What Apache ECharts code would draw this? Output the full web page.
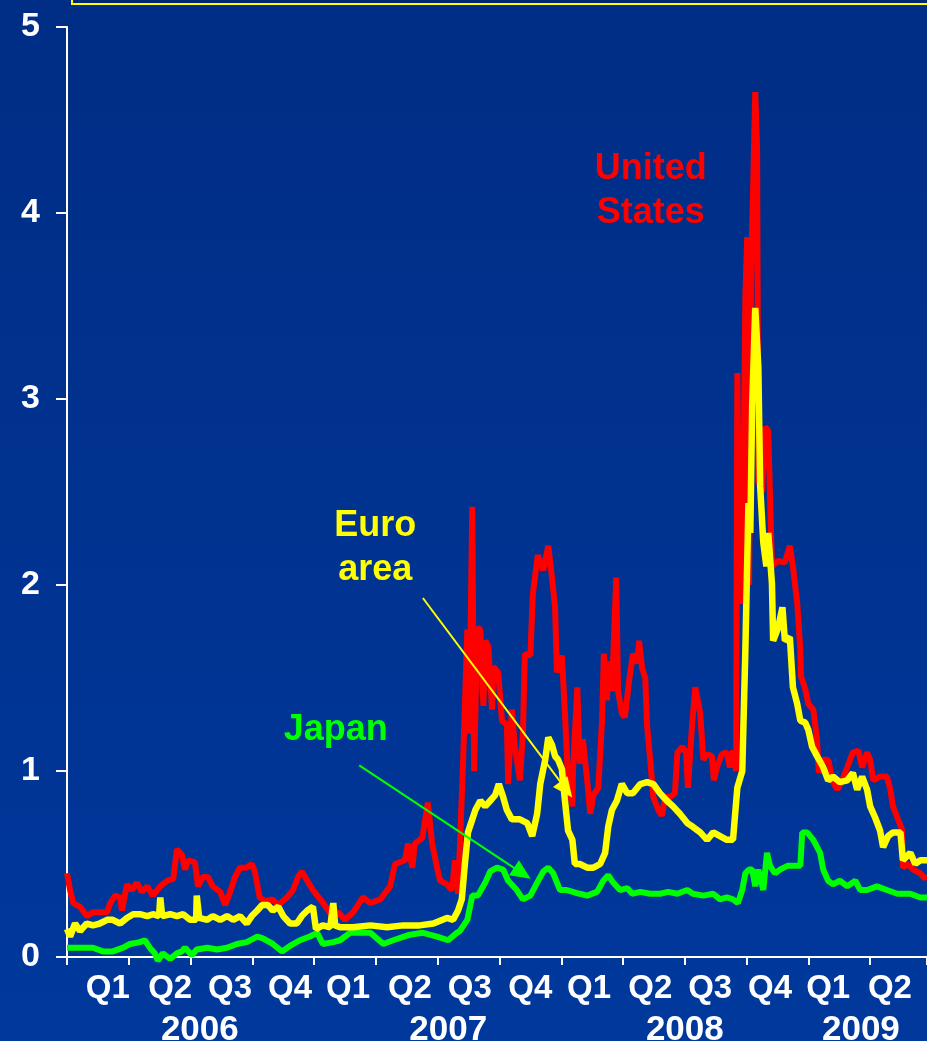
<!DOCTYPE html>
<html>
<head>
<meta charset="utf-8">
<script src="https://cdn.jsdelivr.net/npm/echarts@6/dist/echarts.min.js"></script>
<style>
  html, body { margin: 0; padding: 0; background: #00339a; }
  #chart { width: 927px; height: 1041px; }
</style>
</head>
<body>
<div id="chart"></div>
<script>
// Time runs in quarters from the start of 2006 (0 = 1 Jan 2006, 1 = 1 Apr 2006, ...).
const quarterLabels = ['Q1', 'Q2', 'Q3', 'Q4', 'Q1', 'Q2', 'Q3', 'Q4', 'Q1', 'Q2', 'Q3', 'Q4', 'Q1', 'Q2'];
const quarterLabelAt = [0.66, 1.67, 2.64, 3.61, 4.55, 5.55, 6.52, 7.50, 8.45, 9.44, 10.41, 11.38, 12.32, 13.32];
const yearLabels = ['2006', '2007', '2008', '2009'];
const yearLabelAt = [2.15, 6.17, 10.0, 12.85];
const xEnd = 13.92;

// United States spread, percentage points
const usData = [
  [0.00, 0.45], [0.05, 0.36], [0.10, 0.29], [0.21, 0.27], [0.32, 0.22], [0.42, 0.24], [0.53, 0.24],
  [0.65, 0.24], [0.70, 0.29], [0.78, 0.33], [0.86, 0.32], [0.89, 0.25], [0.97, 0.39], [1.05, 0.36],
  [1.13, 0.40], [1.21, 0.35], [1.30, 0.38], [1.39, 0.33], [1.51, 0.38], [1.62, 0.41], [1.72, 0.42],
  [1.78, 0.58], [1.86, 0.55], [1.91, 0.47], [1.96, 0.52], [2.07, 0.51], [2.12, 0.38], [2.20, 0.43],
  [2.28, 0.43], [2.36, 0.38], [2.48, 0.35], [2.56, 0.28], [2.64, 0.35], [2.72, 0.43], [2.80, 0.48],
  [2.91, 0.48], [2.99, 0.50], [3.04, 0.46], [3.12, 0.32], [3.21, 0.30], [3.32, 0.31], [3.42, 0.28],
  [3.56, 0.32], [3.66, 0.36], [3.74, 0.43], [3.80, 0.46], [3.89, 0.41], [3.98, 0.36], [4.10, 0.31],
  [4.21, 0.26], [4.29, 0.22], [4.39, 0.24], [4.50, 0.20], [4.63, 0.24], [4.79, 0.32], [4.91, 0.29],
  [5.07, 0.31], [5.23, 0.38], [5.31, 0.50], [5.47, 0.52], [5.52, 0.61], [5.59, 0.48], [5.63, 0.61],
  [5.75, 0.64], [5.80, 0.74], [5.84, 0.83], [5.91, 0.61], [5.99, 0.48], [6.04, 0.41], [6.15, 0.39],
  [6.23, 0.36], [6.28, 0.52], [6.33, 0.34], [6.41, 1.04], [6.48, 1.76], [6.51, 1.20], [6.56, 2.42],
  [6.59, 1.00], [6.64, 1.77], [6.69, 1.76], [6.74, 1.35], [6.77, 1.70], [6.82, 1.67], [6.88, 1.33],
  [6.90, 1.56], [6.98, 1.53], [7.04, 1.27], [7.12, 1.25], [7.14, 0.93], [7.20, 1.33], [7.25, 1.13],
  [7.33, 0.95], [7.38, 1.20], [7.41, 1.63], [7.50, 1.62], [7.54, 1.95], [7.62, 2.16], [7.71, 2.08],
  [7.79, 2.21], [7.85, 2.04], [7.90, 1.88], [7.93, 1.53], [8.01, 1.62], [8.06, 1.31], [8.11, 0.95],
  [8.18, 0.81], [8.19, 1.00], [8.26, 1.45], [8.30, 1.04], [8.35, 1.17], [8.42, 0.95], [8.47, 0.77],
  [8.52, 0.87], [8.60, 0.91], [8.66, 1.27], [8.69, 1.63], [8.74, 1.38], [8.76, 1.59], [8.82, 1.43],
  [8.89, 2.04], [8.92, 1.43], [8.98, 1.31], [9.03, 1.29], [9.10, 1.49], [9.16, 1.63], [9.23, 1.58],
  [9.26, 1.70], [9.31, 1.55], [9.36, 1.50], [9.39, 1.24], [9.44, 1.06], [9.49, 0.86], [9.57, 0.79],
  [9.63, 0.76], [9.68, 0.86], [9.76, 0.86], [9.84, 0.88], [9.88, 1.10], [9.96, 1.13], [10.02, 1.10],
  [10.05, 0.91], [10.12, 1.26], [10.17, 1.45], [10.25, 1.31], [10.30, 1.06], [10.36, 1.09], [10.44, 1.08],
  [10.47, 0.95], [10.52, 1.02], [10.60, 1.09], [10.68, 1.10], [10.73, 1.02], [10.78, 1.11], [10.83, 1.00],
  [10.85, 3.14], [10.89, 1.90], [10.93, 1.95], [10.98, 3.55], [11.01, 3.87], [11.04, 2.00], [11.07, 3.60],
  [11.14, 4.65], [11.17, 4.35], [11.19, 2.56], [11.25, 2.50], [11.30, 2.85], [11.35, 2.83], [11.41, 2.10],
  [11.51, 2.13], [11.62, 2.12], [11.70, 2.21], [11.75, 2.10], [11.82, 1.90], [11.87, 1.65], [11.88, 1.51],
  [11.95, 1.44], [12.00, 1.36], [12.08, 1.33], [12.14, 1.17], [12.17, 0.99], [12.24, 1.06], [12.32, 1.06],
  [12.40, 0.94], [12.47, 0.90], [12.56, 0.96], [12.63, 1.02], [12.72, 1.10], [12.81, 1.11], [12.87, 1.02],
  [12.95, 1.10], [13.00, 1.06], [13.05, 0.95], [13.16, 0.97], [13.27, 0.97], [13.32, 0.91], [13.37, 0.81],
  [13.44, 0.75], [13.52, 0.68], [13.53, 0.48], [13.61, 0.50], [13.70, 0.47], [13.81, 0.45], [13.89, 0.42],
  [13.92, 0.44]
];

// Euro area spread, percentage points
const euroData = [
  [0.00, 0.15], [0.05, 0.11], [0.13, 0.18], [0.21, 0.14], [0.32, 0.18], [0.42, 0.17], [0.53, 0.18],
  [0.65, 0.20], [0.74, 0.20], [0.86, 0.18], [0.97, 0.21], [1.07, 0.23], [1.18, 0.23], [1.30, 0.22],
  [1.39, 0.23], [1.49, 0.22], [1.51, 0.32], [1.54, 0.22], [1.67, 0.23], [1.78, 0.22], [1.88, 0.23],
  [1.99, 0.20], [2.09, 0.20], [2.10, 0.33], [2.14, 0.21], [2.27, 0.20], [2.36, 0.22], [2.48, 0.20],
  [2.59, 0.22], [2.69, 0.20], [2.80, 0.22], [2.91, 0.18], [2.99, 0.22], [3.08, 0.25], [3.16, 0.28],
  [3.25, 0.28], [3.33, 0.25], [3.42, 0.27], [3.50, 0.22], [3.61, 0.18], [3.72, 0.18], [3.80, 0.22],
  [3.89, 0.25], [3.98, 0.27], [4.03, 0.15], [4.14, 0.17], [4.26, 0.16], [4.29, 0.16], [4.31, 0.29],
  [4.34, 0.17], [4.42, 0.16], [4.63, 0.16], [4.91, 0.17], [5.18, 0.16], [5.44, 0.17], [5.71, 0.17],
  [5.93, 0.18], [6.15, 0.21], [6.25, 0.20], [6.33, 0.25], [6.39, 0.31], [6.44, 0.50], [6.49, 0.67],
  [6.56, 0.74], [6.61, 0.79], [6.69, 0.84], [6.77, 0.81], [6.85, 0.84], [6.93, 0.87], [6.99, 0.93],
  [7.06, 0.86], [7.12, 0.79], [7.20, 0.74], [7.33, 0.74], [7.45, 0.72], [7.53, 0.65], [7.61, 0.77],
  [7.66, 0.93], [7.74, 1.06], [7.79, 1.18], [7.85, 1.14], [7.90, 1.08], [7.95, 1.06], [8.01, 1.01],
  [8.06, 0.84], [8.11, 0.68], [8.18, 0.63], [8.22, 0.50], [8.30, 0.50], [8.42, 0.48], [8.52, 0.48],
  [8.63, 0.50], [8.71, 0.56], [8.76, 0.70], [8.82, 0.79], [8.90, 0.84], [8.98, 0.93], [9.07, 0.88],
  [9.16, 0.88], [9.28, 0.93], [9.39, 0.94], [9.49, 0.93], [9.60, 0.88], [9.71, 0.84], [9.81, 0.81],
  [9.92, 0.77], [10.04, 0.72], [10.13, 0.70], [10.25, 0.67], [10.36, 0.63], [10.46, 0.67], [10.57, 0.65],
  [10.68, 0.63], [10.78, 0.63], [10.85, 0.91], [10.93, 1.00], [10.98, 1.65], [11.03, 2.44], [11.06, 2.28],
  [11.09, 2.96], [11.14, 3.49], [11.19, 3.17], [11.22, 2.53], [11.27, 2.23], [11.32, 2.10], [11.35, 2.28],
  [11.41, 2.01], [11.43, 1.70], [11.51, 1.77], [11.58, 1.88], [11.62, 1.70], [11.70, 1.72], [11.75, 1.45],
  [11.82, 1.36], [11.87, 1.27], [11.95, 1.26], [12.00, 1.22], [12.06, 1.13], [12.14, 1.08], [12.24, 1.02],
  [12.32, 0.95], [12.40, 0.97], [12.51, 0.94], [12.63, 0.95], [12.72, 0.99], [12.79, 0.90], [12.87, 0.97],
  [12.95, 0.90], [13.00, 0.81], [13.08, 0.75], [13.16, 0.68], [13.21, 0.59], [13.29, 0.65], [13.37, 0.67],
  [13.49, 0.67], [13.53, 0.52], [13.65, 0.56], [13.73, 0.50], [13.81, 0.52], [13.92, 0.52]
];

// Japan spread, percentage points
const japanData = [
  [0.00, 0.05], [0.42, 0.05], [0.58, 0.03], [0.74, 0.03], [0.91, 0.05], [1.02, 0.07], [1.18, 0.08],
  [1.26, 0.09], [1.34, 0.05], [1.42, 0.02], [1.47, -0.02], [1.55, 0.02], [1.67, -0.01], [1.78, 0.02],
  [1.86, 0.03], [1.91, 0.05], [2.02, 0.01], [2.10, 0.04], [2.27, 0.05], [2.43, 0.04], [2.59, 0.05],
  [2.75, 0.07], [2.91, 0.08], [3.08, 0.11], [3.17, 0.10], [3.33, 0.07], [3.48, 0.03], [3.61, 0.06],
  [3.77, 0.09], [3.93, 0.11], [4.05, 0.13], [4.14, 0.07], [4.31, 0.08], [4.42, 0.09], [4.58, 0.13],
  [4.91, 0.13], [5.12, 0.07], [5.28, 0.09], [5.55, 0.12], [5.76, 0.13], [5.99, 0.11], [6.17, 0.09],
  [6.31, 0.13], [6.36, 0.14], [6.48, 0.20], [6.56, 0.33], [6.65, 0.33], [6.77, 0.40], [6.85, 0.46],
  [6.96, 0.48], [7.06, 0.47], [7.14, 0.41], [7.28, 0.36], [7.38, 0.31], [7.50, 0.33], [7.61, 0.40],
  [7.71, 0.46], [7.79, 0.48], [7.87, 0.45], [7.98, 0.36], [8.09, 0.36], [8.30, 0.34], [8.42, 0.33],
  [8.58, 0.35], [8.68, 0.41], [8.76, 0.44], [8.84, 0.40], [8.95, 0.36], [9.07, 0.37], [9.15, 0.34],
  [9.28, 0.35], [9.44, 0.34], [9.60, 0.34], [9.73, 0.35], [9.88, 0.34], [10.04, 0.36], [10.13, 0.34],
  [10.30, 0.33], [10.46, 0.34], [10.57, 0.31], [10.68, 0.32], [10.78, 0.31], [10.86, 0.29], [10.93, 0.36],
  [10.98, 0.45], [11.04, 0.47], [11.09, 0.47], [11.14, 0.38], [11.19, 0.47], [11.27, 0.36], [11.33, 0.56],
  [11.38, 0.49], [11.46, 0.45], [11.54, 0.47], [11.66, 0.49], [11.87, 0.49], [11.90, 0.67], [11.98, 0.67],
  [12.08, 0.63], [12.19, 0.56], [12.24, 0.47], [12.32, 0.41], [12.40, 0.39], [12.51, 0.41], [12.63, 0.38],
  [12.76, 0.41], [12.84, 0.36], [12.95, 0.36], [13.11, 0.38], [13.27, 0.36], [13.44, 0.34], [13.65, 0.34],
  [13.81, 0.32], [13.92, 0.32]
];

// Callouts: label anchors and pointer lines, in axis units
const usCallout = { text: 'United\nStates', at: [9.45, 4.12] };
const euroCallout = { text: 'Euro\narea', at: [4.99, 2.20], from: [5.76, 1.93], to: [8.08, 0.90] };
const japanCallout = { text: 'Japan', at: [4.35, 1.22], from: [4.73, 1.03], to: [7.37, 0.45] };

const FONT = 'Arial, "Liberation Sans", Helvetica, sans-serif';
const RED = '#ff0000', YELLOW = '#ffff00', GREEN = '#00ff00';

function calloutPoint(c, color) {
  return {
    symbol: 'circle',
    symbolSize: 1,
    silent: true,
    itemStyle: { color: 'rgba(0,0,0,0)' },
    data: [{ name: c.text, coord: c.at, value: 0 }],
    label: {
      show: true,
      position: 'inside',
      formatter: () => c.text,
      color: color,
      fontFamily: FONT,
      fontWeight: 'bold',
      fontSize: 36,
      lineHeight: 44,
      align: 'center',
      verticalAlign: 'middle'
    }
  };
}

function calloutLine(c, color) {
  return {
    silent: true,
    symbol: ['none', 'triangle'],
    symbolSize: [18, 20],
    label: { show: false },
    lineStyle: { color: color, width: 2, type: 'solid' },
    emphasis: { disabled: true },
    data: [[{ coord: c.from }, { coord: c.to }]]
  };
}

const chart = echarts.init(document.getElementById('chart'), null, { renderer: 'canvas' });

const hiddenAxisParts = {
  axisLine: { show: false },
  axisTick: { show: false },
  splitLine: { show: false }
};

chart.setOption({
  animation: false,
  backgroundColor: '#00339a',
  graphic: [
    {
      type: 'rect',
      z: -10,
      silent: true,
      shape: { x: 0, y: 0, width: 927, height: 1041 },
      style: {
        fill: new echarts.graphic.LinearGradient(0, 0, 0, 1, [
          { offset: 0, color: '#002d85' },
          { offset: 1, color: '#00389c' }
        ])
      }
    },
    {
      type: 'rect',
      z: -5,
      silent: true,
      shape: { x: 72, y: -12, width: 880, height: 16 },
      style: { fill: '#00286f', stroke: '#ffff00', lineWidth: 2 }
    }
  ],
  grid: { left: 67, right: 0, top: 27, bottom: 84, containLabel: false, outerBoundsMode: 'none' },
  xAxis: [
    {
      type: 'value',
      min: 0,
      max: xEnd,
      interval: 1,
      axisLine: { show: true, lineStyle: { color: '#ffffff', width: 2 } },
      axisTick: { show: true, length: 8, lineStyle: { color: '#ffffff', width: 2 } },
      axisLabel: { show: false },
      splitLine: { show: false }
    },
    Object.assign({
      type: 'value',
      min: 0,
      max: xEnd,
      position: 'bottom',
      axisLabel: {
        show: true,
        customValues: quarterLabelAt,
        formatter: (v) => quarterLabels[quarterLabelAt.indexOf(v)] || '',
        margin: 15,
        color: '#ffffff',
        fontFamily: FONT,
        fontWeight: 'bold',
        fontSize: 33
      }
    }, hiddenAxisParts),
    Object.assign({
      type: 'value',
      min: 0,
      max: xEnd,
      position: 'bottom',
      axisLabel: {
        show: true,
        customValues: yearLabelAt,
        formatter: (v) => yearLabels[yearLabelAt.indexOf(v)] || '',
        margin: 56,
        color: '#ffffff',
        fontFamily: FONT,
        fontWeight: 'bold',
        fontSize: 35
      }
    }, hiddenAxisParts)
  ],
  yAxis: {
    type: 'value',
    min: 0,
    max: 5,
    interval: 1,
    axisLine: { show: true, lineStyle: { color: '#ffffff', width: 2 } },
    axisTick: { show: true, length: 11, lineStyle: { color: '#ffffff', width: 2 } },
    axisLabel: {
      margin: 27,
      color: '#ffffff',
      fontFamily: FONT,
      fontWeight: 'bold',
      fontSize: 34
    },
    splitLine: { show: false }
  },
  series: [
    {
      name: 'United States',
      type: 'line',
      data: usData,
      showSymbol: false,
      clip: false,
      lineStyle: { color: RED, width: 6 },
      itemStyle: { color: RED },
      z: 2,
      markPoint: calloutPoint(usCallout, RED)
    },
    {
      name: 'Japan',
      type: 'line',
      data: japanData,
      showSymbol: false,
      clip: false,
      lineStyle: { color: GREEN, width: 6 },
      itemStyle: { color: GREEN },
      z: 3,
      markPoint: calloutPoint(japanCallout, GREEN),
      markLine: calloutLine(japanCallout, GREEN)
    },
    {
      name: 'Euro area',
      type: 'line',
      data: euroData,
      showSymbol: false,
      clip: false,
      lineStyle: { color: YELLOW, width: 6.5 },
      itemStyle: { color: YELLOW },
      z: 4,
      markPoint: calloutPoint(euroCallout, YELLOW),
      markLine: calloutLine(euroCallout, YELLOW)
    }
  ]
});
</script>
</body>
</html>
